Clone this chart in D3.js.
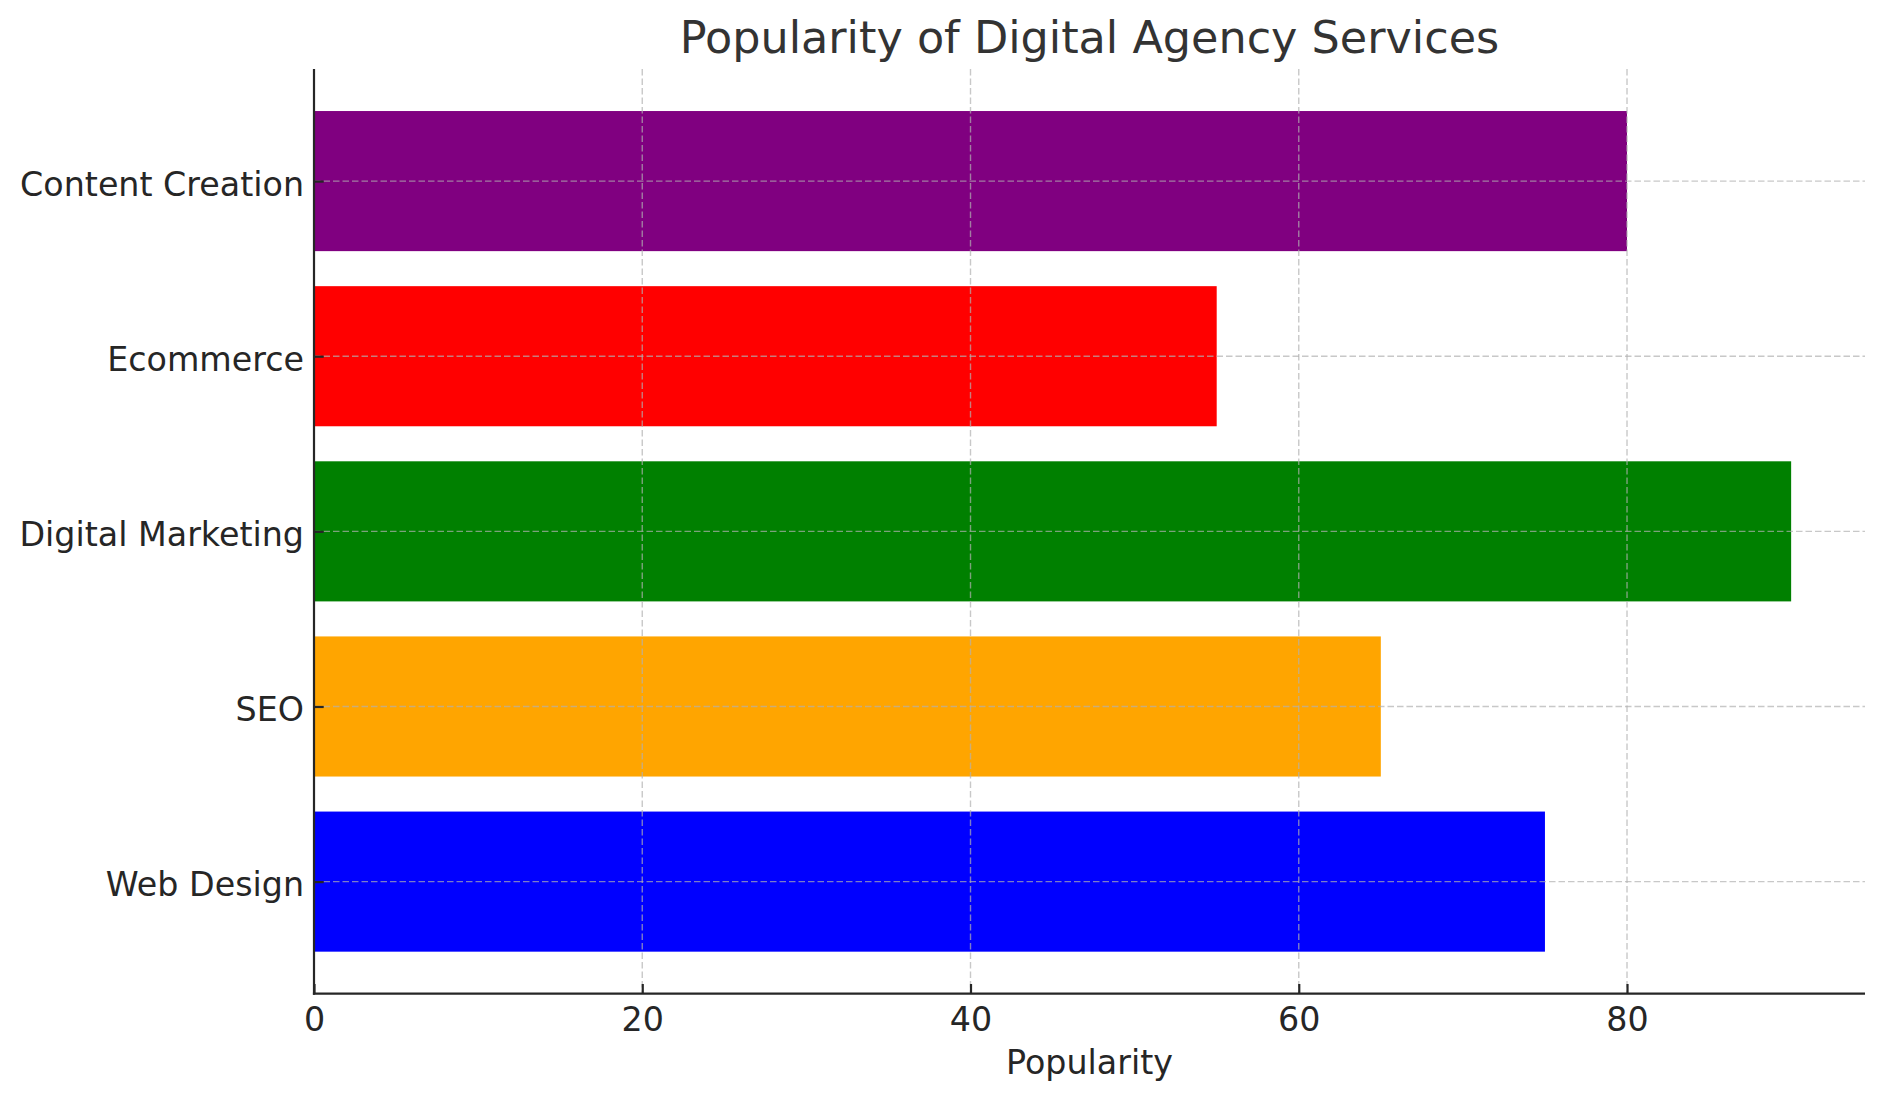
<!DOCTYPE html>
<html><head><meta charset="utf-8">
<script src="https://cdn.jsdelivr.net/npm/d3@7"></script>
<style>body{margin:0;background:#fff;} text{font-family:"DejaVu Sans",sans-serif;}</style>
</head><body><svg id="c" width="1884" height="1101"></svg>
<script>
const categories = ["Web Design","SEO","Digital Marketing","Ecommerce","Content Creation"];
const values = [75,65,90,55,80];
const colors = ["blue","orange","green","red","purple"];
const xTicks = [0,20,40,60,80];
const title = "Popularity of Digital Agency Services";
const xLabel = "Popularity";

const svg = d3.select("#c");
const L=314, R=1865, T=69, B=993.7;
const xMax = d3.max(values)*1.05;
const x = d3.scaleLinear().domain([0,xMax]).range([L,R]);
const n = categories.length;
const pad = (n-1+0.8)*0.05;
const y = d3.scaleLinear().domain([-0.4-pad, n-1+0.4+pad]).range([B,T]);

svg.append("g").selectAll("rect").data(values).join("rect")
  .attr("x", x(0)).attr("y",(d,i)=>y(i+0.4)).attr("width",d=>x(d)-x(0))
  .attr("height",(d,i)=>y(i-0.4)-y(i+0.4)).attr("fill",(d,i)=>colors[i]);

// grid
const g = svg.append("g").attr("stroke","#b0b0b0").attr("stroke-opacity",0.7).attr("stroke-width",1.4).attr("stroke-dasharray","6.5,3");
g.selectAll("line.v").data(xTicks).join("line").attr("x1",d=>x(d)).attr("x2",d=>x(d)).attr("y1",T).attr("y2",B);
g.selectAll("line.h").data(categories).join("line").attr("y1",(d,i)=>y(i)).attr("y2",(d,i)=>y(i)).attr("x1",L).attr("x2",R);

const xAxis = d3.axisBottom(x).tickValues(xTicks).tickSizeInner(-9.7).tickSizeOuter(0).tickPadding(14).tickFormat(d3.format("d"));
const xg = svg.append("g").attr("transform",`translate(0,${B})`).call(xAxis);
xg.select(".domain").remove();
xg.selectAll("line").attr("stroke","#262626").attr("stroke-width",2.2);
xg.selectAll("text").attr("font-size",33.3).attr("fill","#262626").attr("font-family","DejaVu Sans");

const yAxis = d3.axisLeft(y).tickValues(d3.range(n)).tickSizeInner(-9.7).tickSizeOuter(0).tickPadding(10).tickFormat(i=>categories[i]);
const yg = svg.append("g").attr("transform",`translate(${L},0)`).call(yAxis);
yg.select(".domain").remove();
yg.selectAll("line").attr("stroke","#262626").attr("stroke-width",2.2);
yg.selectAll("text").attr("font-size",33.3).attr("fill","#262626").attr("font-family","DejaVu Sans").attr("dy","0.42em");

svg.append("line").attr("x1",L).attr("x2",L).attr("y1",T).attr("y2",B+1.1).attr("stroke","#262626").attr("stroke-width",2.2);
svg.append("line").attr("x1",L-1.1).attr("x2",R).attr("y1",B).attr("y2",B).attr("stroke","#262626").attr("stroke-width",2.2);

svg.append("text").attr("x",(L+R)/2).attr("y",1074).attr("text-anchor","middle").attr("font-size",33.3).attr("fill","#262626").text(xLabel);
svg.append("text").attr("x",(L+R)/2).attr("y",53).attr("text-anchor","middle").attr("font-size",44.5).attr("fill","#333333").text(title);
</script></body></html>
